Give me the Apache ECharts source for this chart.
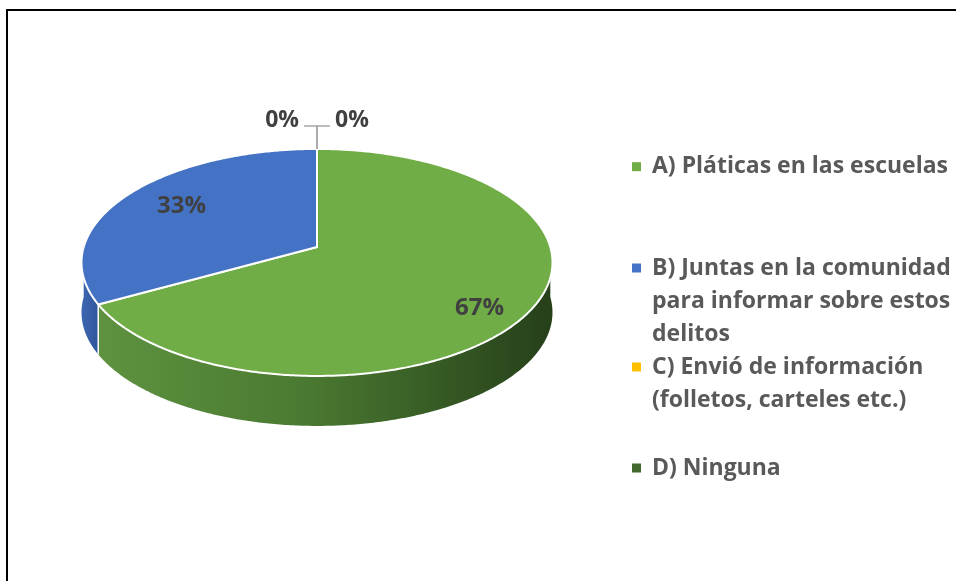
<!DOCTYPE html>
<html>
<head>
<meta charset="utf-8">
<script src="https://cdn.jsdelivr.net/npm/echarts@6/dist/echarts.min.js"></script>
<style>
  html, body { margin: 0; padding: 0; background: #fff; }
  #chart { width: 956px; height: 581px; }
</style>
</head>
<body>
<div id="chart"></div>
<script>
// datos
const categories = [
    'A) Pláticas en las escuelas',
    'B) Juntas en la comunidad para informar sobre estos delitos',
    'C) Envió de información (folletos, carteles etc.)',
    'D) Ninguna'
]
const values = [67, 33, 0, 0]
const legendText = [
    'A) Pláticas en las escuelas',
    'B) Juntas en la comunidad\npara informar sobre estos\ndelitos',
    'C) Envió de información\n(folletos, carteles etc.)',
    'D) Ninguna'
]

// estilos
const palette = ['#70ad47', '#4472c4', '#ffc000', '#43682b']
const sideStops = [
    ['#5e9240', '#4a7a31', '#26401a'],
    ['#3c66b2', '#3860a8', '#30569a'],
    ['#e0a800', '#c99700', '#a07800'],
    ['#3a5c25', '#2f4b1e', '#223716']
]
const FONT = '"Open Sans"'

// geometría del pastel 3D (perspectiva simple)
const CX = 317, CY = 247, RX = 233.3, RY = 111.4, K = 0.136, DEPTH = 50

const total = values.reduce((a, b) => a + b, 0)
const starts = [], ends = []
values.reduce((acc, v, i) => {
    starts[i] = acc / total
    ends[i] = (acc + v) / total
    return acc + v
}, 0)

function proj(a, f, h) {
    let c = f * Math.sin(a), s = -f * Math.cos(a), d = 1 - K * s
    return [CX + RX * c / d, CY + RY * s / d + h]
}
function arc(a0, a1, f, h) {
    let n = Math.max(2, Math.ceil(Math.abs(a1 - a0) / 0.01))
    let pts = []
    for (let i = 0; i <= n; i++) pts.push(proj(a0 + (a1 - a0) * i / n, f, h))
    return pts
}

function renderSlice(i, api) {
    let a0 = api.value(0) * Math.PI * 2
    let a1 = api.value(1) * Math.PI * 2
    let v = api.value(2)
    let children = []
    let pct = Math.round(v / total * 100) + '%'

    if (a1 - a0 > 1e-6) {
        // pared lateral visible (mitad frontal)
        let lo = Math.max(a0, Math.PI / 2), hi = Math.min(a1, Math.PI * 1.5)
        if (hi > lo) {
            let pts = arc(lo, hi, 1, 0).concat(arc(hi, lo, 1, DEPTH))
            children.push({
                type: 'polygon', z2: 1,
                shape: { points: pts },
                style: {
                    fill: new echarts.graphic.LinearGradient(0, 0, 1, 0, [
                        { offset: 0, color: sideStops[i][0] },
                        { offset: 0.45, color: sideStops[i][1] },
                        { offset: 1, color: sideStops[i][2] }
                    ])
                }
            })
        }
        // arista vertical entre rebanadas
        if (a0 > Math.PI / 2 && a0 < Math.PI * 1.5) {
            let p = proj(a0, 1, 0), q = proj(a0, 1, DEPTH)
            children.push({
                type: 'line', z2: 3,
                shape: { x1: p[0], y1: p[1], x2: q[0], y2: q[1] },
                style: { stroke: '#fff', lineWidth: 1.5 }
            })
        }
        // cara superior
        children.push({
            type: 'polygon', z2: 5,
            shape: { points: [proj(0, 0, 0)].concat(arc(a0, a1, 1, 0)) },
            style: { fill: palette[i], stroke: '#fff', lineWidth: 2, lineJoin: 'round' }
        })
        // etiqueta
        let am = (a0 + a1) / 2
        let lp = proj(am, 0.74, 0)
        let s = -Math.cos(am) * 0.74
        children.push({
            type: 'text', z2: 10,
            x: lp[0] + 6, y: lp[1] + DEPTH * Math.max(s, 0) * 0.95 - 1,
            style: {
                text: pct, fill: '#404040', fontFamily: FONT, fontWeight: 'bold',
                fontSize: 24, align: 'center', verticalAlign: 'middle'
            }
        })
    } else {
        // rebanadas de 0%: etiqueta fuera con línea guía
        let rank = values.slice(0, i).filter(x => x === 0).length
        let dir = rank === 0 ? -1 : 1
        let p = proj(a0, 1, 0)
        let ty = p[1] - 23
        children.push({
            type: 'polyline', z2: 8,
            shape: { points: [p, [p[0], ty], [p[0] + dir * 13, ty]] },
            style: { stroke: '#a6a6a6', lineWidth: 1.5, fill: null }
        })
        children.push({
            type: 'text', z2: 10,
            x: p[0] + dir * 18, y: ty - 5,
            style: {
                text: pct, fill: '#404040', fontFamily: FONT, fontWeight: 'bold',
                fontSize: 23, align: dir < 0 ? 'right' : 'left', verticalAlign: 'middle'
            }
        })
    }
    return { type: 'group', children: children }
}

// posición vertical del icono de cada leyenda
const legendIconY = [166.7, 268, 367, 468]
const LINE_H = 33

let chart = echarts.init(document.getElementById('chart'))
chart.setOption({
    animation: false,
    backgroundColor: '#fff',
    graphic: [{
        type: 'rect', z: -1,
        shape: { x: 7, y: 10, width: 1000, height: 700 },
        style: { fill: null, stroke: '#000', lineWidth: 2 }
    }],
    legend: legendText.map((t, i) => {
        let n = t.split('\n').length
        let box = (2 * n - 1) * LINE_H
        // líneas vacías delante para que el icono quede junto a la primera línea
        let shown = '\n'.repeat(n - 1) + t
        return {
            data: [categories[i]],
            orient: 'vertical',
            left: 632,
            top: legendIconY[i] - box / 2,
            padding: 0,
            icon: 'rect',
            itemWidth: 9,
            itemHeight: 9,
            selectedMode: false,
            formatter: () => shown,
            textStyle: {
                color: '#595959', fontFamily: FONT, fontWeight: 'bold', fontSize: 23,
                lineHeight: LINE_H, padding: [0, 0, 0, 6]
            }
        }
    }),
    series: categories.map((name, i) => ({
        type: 'custom',
        name: name,
        coordinateSystem: 'none',
        itemStyle: { color: palette[i] },
        data: [[starts[i], ends[i], values[i]]],
        renderItem: (params, api) => renderSlice(i, api)
    }))
})
</script>
</body>
</html>
